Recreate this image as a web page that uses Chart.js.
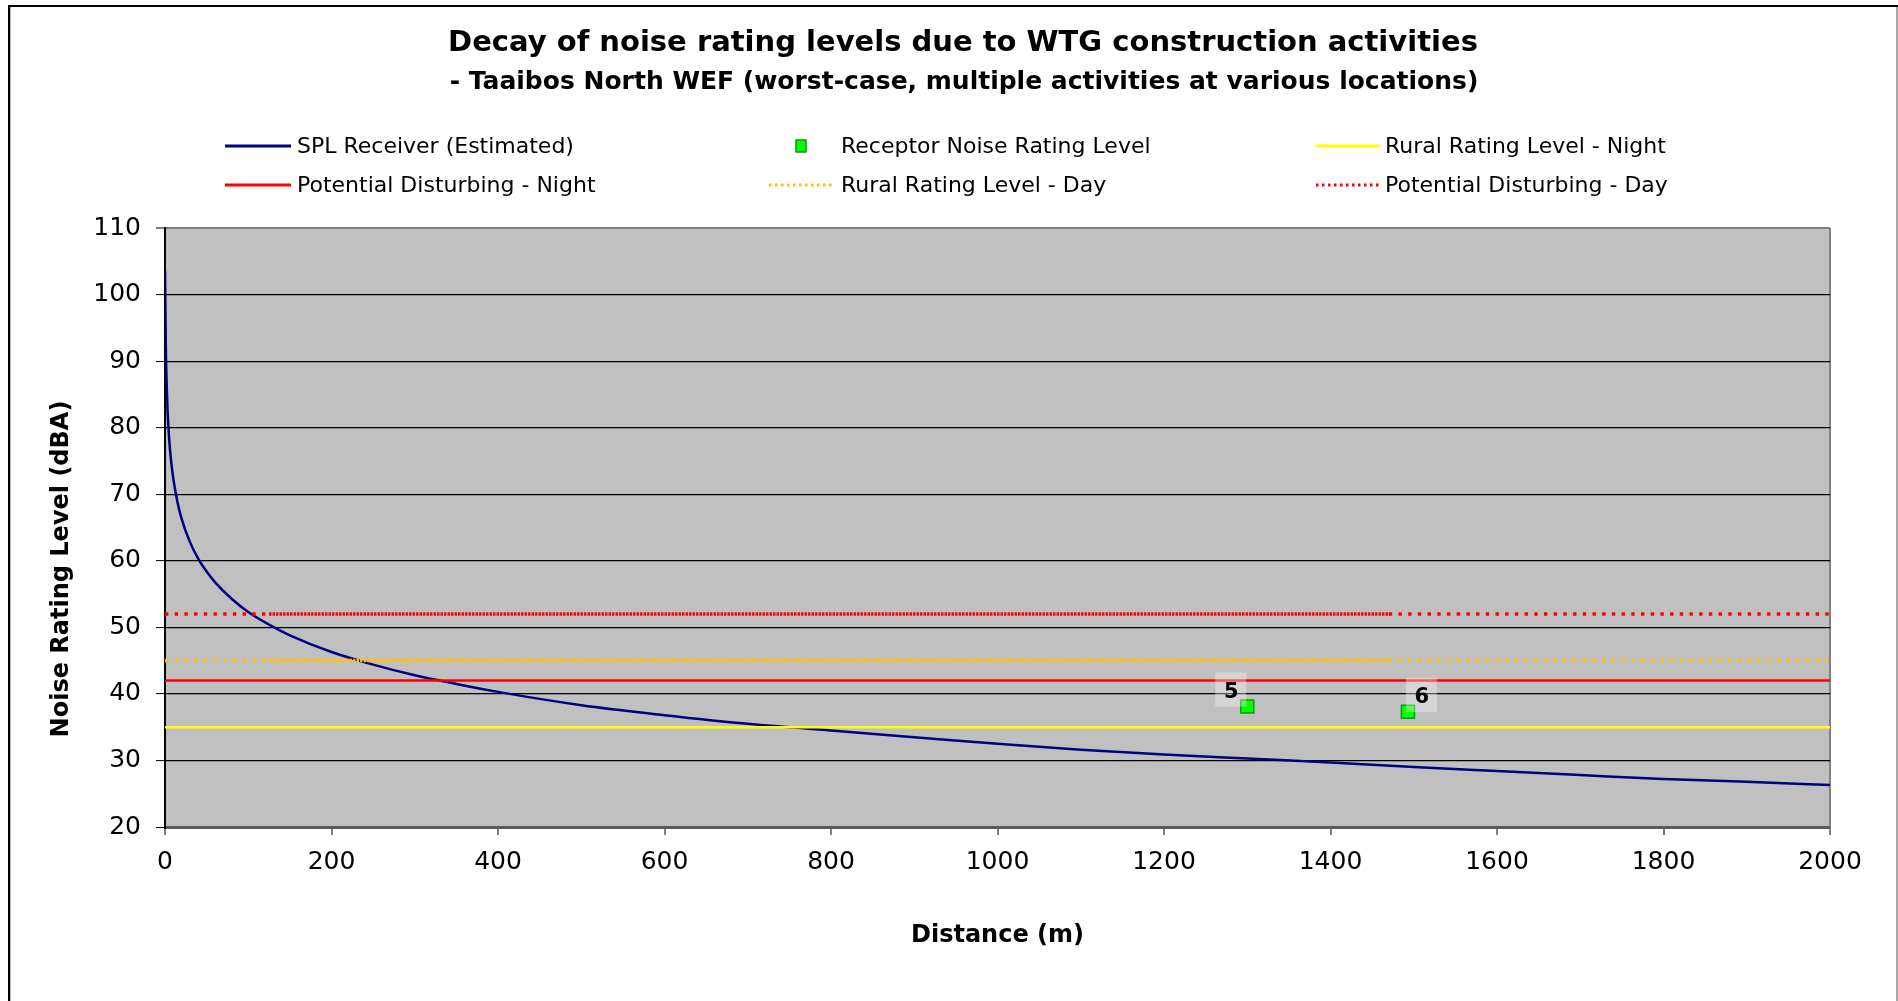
<!DOCTYPE html>
<html>
<head>
<meta charset="utf-8">
<title>Decay of noise rating levels</title>
<script src="https://cdn.jsdelivr.net/npm/chart.js@4.4.1/dist/chart.umd.min.js"></script>
<style>
    html, body { margin: 0; padding: 0; background: #fff; }
    #wrap { position: relative; width: 1898px; height: 1001px; }
</style>
</head>
<body>
<div id="wrap"><canvas id="decayChart"></canvas></div>
<script>
// estimated SPL at the receiver vs distance from the activities
var distance = [0, 1, 2, 3, 5, 7, 10, 15, 20, 30, 40, 50, 60, 80, 100, 125, 150, 200, 250, 300, 350, 400,
    500, 600, 700, 800, 900, 1000, 1100, 1200, 1300, 1400, 1500, 1600, 1700, 1800, 1900, 2000];
var splReceiver = [103.6, 92.0, 86.5, 82.8, 78.3, 75.4, 72.3, 68.8, 66.3, 62.8, 60.3, 58.4, 56.8, 54.3, 52.3, 50.4, 48.8, 46.3, 44.4, 42.8, 41.5, 40.3,
    38.3, 36.8, 35.5, 34.5, 33.5, 32.5, 31.6, 30.9, 30.3, 29.7, 29.0, 28.4, 27.8, 27.2, 26.8, 26.3];

// receptors
var receptorDistance = [1300, 1493];
var receptorLevel = [38.1, 37.3];
var receptorNames = ['5', '6'];

// rating levels (dBA)
var limitDistance = [0, 125, 1470, 2000];
var ruralNight = 35;
var ruralDay = 45;
var disturbingNight = 42;
var disturbingDay = 52;

var xTicks = [0, 200, 400, 600, 800, 1000, 1200, 1400, 1600, 1800, 2000];
var yTicks = [20, 30, 40, 50, 60, 70, 80, 90, 100, 110];

var FONT = 'DejaVu Sans';
Chart.defaults.font.family = FONT;
Chart.defaults.color = '#000';

function toPoints(xs, ys) {
    return xs.map((x, i) => ({ x: x, y: ys[i] }));
}
function flatLine(level) {
    return limitDistance.map(d => ({ x: d, y: level }));
}

// dotted series: tight dots where the points sit close together, loose dots elsewhere
var denseDash = [2.4, 1.1];
var sparseDash = [3.4, 6.3];
function dotted(ctx) {
    return ctx.p0DataIndex === 1 ? denseDash : sparseDash;
}

var datasets = [
    {
        label: 'SPL Receiver (Estimated)',
        data: toPoints(distance, splReceiver),
        borderColor: '#000080',
        borderWidth: 2.5,
        pointRadius: 0,
        cubicInterpolationMode: 'monotone',
        legendDash: [],
        order: 5
    },
    {
        label: 'Receptor Noise Rating Level',
        data: toPoints(receptorDistance, receptorLevel),
        showLine: false,
        pointStyle: 'rect',
        pointRadius: 9.2,
        pointBackgroundColor: '#00ff00',
        pointBorderColor: '#00a000',
        pointBorderWidth: 1.5,
        names: receptorNames,
        nameSide: ['left', 'right'],
        order: 0
    },
    {
        label: 'Rural Rating Level - Night',
        data: flatLine(ruralNight),
        borderColor: '#ffff00',
        borderWidth: 2.5,
        pointRadius: 0,
        legendDash: [],
        order: 3
    },
    {
        label: 'Potential Disturbing - Night',
        data: flatLine(disturbingNight),
        borderColor: '#ff0000',
        borderWidth: 2.5,
        pointRadius: 0,
        legendDash: [],
        order: 4
    },
    {
        label: 'Rural Rating Level - Day',
        data: flatLine(ruralDay),
        borderColor: '#ffc000',
        borderWidth: 3.5,
        pointRadius: 0,
        segment: { borderDash: dotted },
        legendDash: [2.5, 3.5],
        order: 2
    },
    {
        label: 'Potential Disturbing - Day',
        data: flatLine(disturbingDay),
        borderColor: '#ff0000',
        borderWidth: 3.5,
        pointRadius: 0,
        segment: { borderDash: dotted },
        legendDash: [2.5, 3.5],
        order: 1
    }
];

// three-column legend, dataset index per slot
var legendRows = [[0, 1, 2], [3, 4, 5]];
var legendRowY = [146, 185];
var legendCols = [{ x0: 225, x1: 291, text: 297 }, { x0: 769, x1: 833, text: 841 }, { x0: 1316, x1: 1380, text: 1385 }];

var decor = {
    id: 'decor',
    beforeDraw: function (chart) {
        var ctx = chart.ctx, a = chart.chartArea;
        ctx.save();
        ctx.fillStyle = '#fff';
        ctx.fillRect(0, 0, chart.width, chart.height);
        // frame
        ctx.fillStyle = '#000';
        ctx.fillRect(8, 5, chart.width - 8, 2);
        ctx.fillRect(8, 5, 2, chart.height - 5);
        ctx.fillStyle = '#bdbdbd';
        ctx.fillRect(10, 7, 1, chart.height - 7);
        ctx.fillStyle = '#a8a8a8';
        ctx.fillRect(chart.width - 2, 7, 2, chart.height - 7);
        // plot area
        ctx.fillStyle = '#c0c0c0';
        ctx.fillRect(a.left, a.top, a.right - a.left, a.bottom - a.top);
        ctx.restore();
    },
    afterDatasetsDraw: function (chart) {
        var ctx = chart.ctx;
        var ds = chart.data.datasets[1];
        var meta = chart.getDatasetMeta(1);
        ctx.save();
        ctx.font = 'bold 21px ' + FONT;
        ctx.textAlign = 'center';
        ctx.textBaseline = 'middle';
        meta.data.forEach(function (pt, i) {
            var bx = ds.nameSide[i] === 'left' ? pt.x - 32 : pt.x - 2;
            var by = pt.y - 34;
            ctx.fillStyle = 'rgba(255,255,255,0.33)';
            ctx.fillRect(bx, by, 31, 34);
            ctx.fillStyle = '#000';
            ctx.fillText(ds.names[i], bx + 16, by + 20);
        });
        ctx.restore();
    },
    afterDraw: function (chart) {
        var ctx = chart.ctx;
        ctx.save();
        ctx.fillStyle = '#000';
        ctx.textAlign = 'center';
        ctx.textBaseline = 'middle';
        ctx.font = 'bold 29px ' + FONT;
        ctx.fillText('Decay of noise rating levels due to WTG construction activities', 963, 43);
        ctx.font = 'bold 25px ' + FONT;
        ctx.fillText('- Taaibos North WEF (worst-case, multiple activities at various locations)', 964, 82);

        // legend
        ctx.font = '22px ' + FONT;
        ctx.textAlign = 'left';
        legendRows.forEach(function (row, r) {
            var y = legendRowY[r];
            row.forEach(function (idx, c) {
                var ds = chart.data.datasets[idx];
                var col = legendCols[c];
                if (ds.showLine === false) {
                    var cx = (col.x0 + col.x1) / 2;
                    ctx.fillStyle = ds.pointBackgroundColor;
                    ctx.strokeStyle = ds.pointBorderColor;
                    ctx.lineWidth = 1.5;
                    ctx.fillRect(cx - 5, y - 6, 10, 12);
                    ctx.strokeRect(cx - 5, y - 6, 10, 12);
                } else {
                    ctx.strokeStyle = ds.borderColor;
                    ctx.lineWidth = 3;
                    ctx.setLineDash(ds.legendDash);
                    ctx.beginPath();
                    ctx.moveTo(col.x0, y);
                    ctx.lineTo(col.x1, y);
                    ctx.stroke();
                    ctx.setLineDash([]);
                }
                ctx.fillStyle = '#000';
                ctx.fillText(ds.label, col.text, y + 1);
            });
        });

        // y axis title
        ctx.translate(62, 569);
        ctx.rotate(-Math.PI / 2);
        ctx.textAlign = 'center';
        ctx.font = 'bold 24px ' + FONT;
        ctx.fillText('Noise Rating Level (dBA)', 0, 0);
        ctx.restore();
    }
};

new Chart(document.getElementById('decayChart'), {
    type: 'line',
    data: { datasets: datasets },
    options: {
        responsive: true,
        maintainAspectRatio: false,
        animation: false,
        events: [],
        layout: { padding: { top: 228, right: 68, bottom: 0, left: 0 } },
        plugins: {
            legend: { display: false },
            tooltip: { enabled: false }
        },
        scales: {
            x: {
                type: 'linear',
                min: 0,
                max: 2000,
                afterBuildTicks: function (scale) {
                    scale.ticks = xTicks.map(v => ({ value: v }));
                },
                afterFit: function (scale) {
                    scale.height = 174;
                },
                border: { display: false },
                grid: {
                    drawOnChartArea: true,
                    color: ctx => ctx.tick && ctx.tick.value === 2000 ? '#808080' : 'rgba(0,0,0,0)',
                    lineWidth: 2,
                    tickColor: '#000',
                    tickLength: 8,
                    tickWidth: 1
                },
                ticks: {
                    font: { size: 25 },
                    padding: 12,
                    maxRotation: 0,
                    callback: v => String(v)
                },
                title: {
                    display: true,
                    text: 'Distance (m)',
                    font: { size: 24, weight: 'bold' },
                    padding: { top: 0, bottom: 51 }
                }
            },
            y: {
                min: 20,
                max: 110,
                afterBuildTicks: function (scale) {
                    scale.ticks = yTicks.map(v => ({ value: v }));
                },
                afterFit: function (scale) {
                    scale.width = 165;
                },
                border: { display: true, color: '#000', width: 2 },
                grid: {
                    color: function (ctx) {
                        if (!ctx.tick) return '#000';
                        if (ctx.tick.value === 20) return '#595959';
                        if (ctx.tick.value === 110) return '#808080';
                        return '#000';
                    },
                    lineWidth: function (ctx) {
                        if (ctx.tick && ctx.tick.value === 20) return 3;
                        if (ctx.tick && ctx.tick.value === 110) return 2;
                        return 1.2;
                    },
                    tickColor: '#000',
                    tickLength: 9,
                    tickWidth: 1
                },
                ticks: {
                    font: { size: 25 },
                    padding: 15
                }
            }
        }
    },
    plugins: [decor]
});
</script>
</body>
</html>
